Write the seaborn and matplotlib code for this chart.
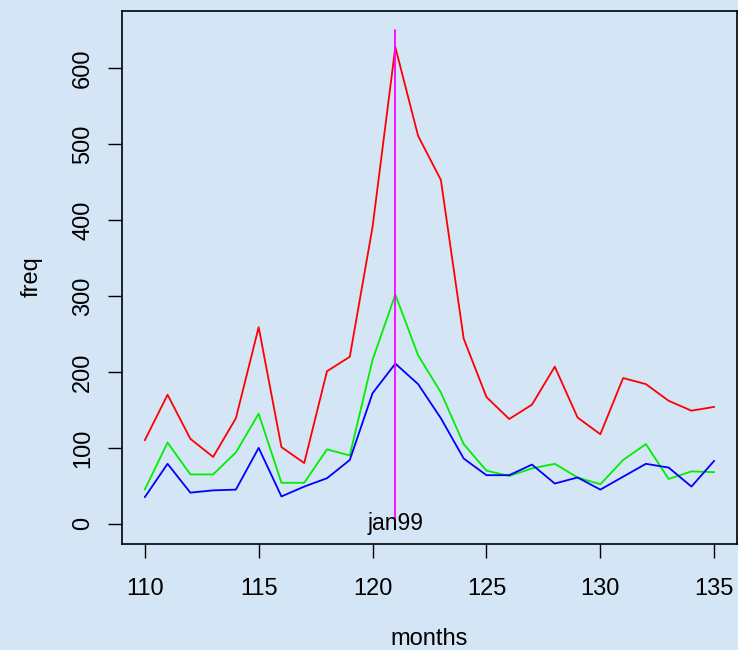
import matplotlib
matplotlib.use("Agg")
import matplotlib.pyplot as plt
import seaborn as sns
import pandas as pd

months = list(range(110, 136))
red_vals = [110, 170, 112, 88, 139, 259, 101, 80, 201, 220, 391, 628, 511, 453,
            244, 167, 138, 157, 207, 140, 118, 192, 184, 162, 149, 154]
green_vals = [45, 107, 65, 65, 94, 145, 54, 54, 98, 90, 216, 302, 222, 173,
              105, 70, 63, 73, 79, 61, 52, 84, 105, 59, 69, 68]
blue_vals = [35, 79, 41, 44, 45, 100, 36, 49, 60, 84, 172, 211, 184, 139,
             86, 64, 64, 78, 53, 61, 45, 62, 79, 74, 49, 83]
series_names = ["red", "green", "blue"]
series_colors = {"red": "#ff0000", "green": "#00ee00", "blue": "#0000ff"}
marker_month = 121
marker_top = 650
marker_label = "jan99"
x_ticks = [110, 115, 120, 125, 130, 135]
y_ticks = [0, 100, 200, 300, 400, 500, 600]

rows = []
for name, vals in zip(series_names, [red_vals, green_vals, blue_vals]):
    for m, v in zip(months, vals):
        rows.append({"months": m, "freq": v, "series": name})
df = pd.DataFrame(rows)

bg = "#d4e5f5"
sns.set_theme(style="white")
plt.rcParams["font.family"] = ["Liberation Sans", "DejaVu Sans"]

fig = plt.figure(figsize=(7.38, 6.5), dpi=100, facecolor=bg)
ax = fig.add_axes([122 / 738, 1 - 543.5 / 650, (737 - 122) / 738, (543.5 - 10.7) / 650])
ax.set_facecolor(bg)

sns.lineplot(data=df, x="months", y="freq", hue="series", hue_order=series_names,
             palette=series_colors, legend=False, ax=ax, linewidth=1.3)
ax.plot([marker_month, marker_month], [0, marker_top], color="#ff00ff", linewidth=1.3)
ax.text(marker_month, 0, marker_label, ha="center", va="center", fontsize=16.5, color="black")

ax.set_xlim(109, 136)
ax.set_ylim(-26, 676)
ax.set_xticks(x_ticks)
ax.set_yticks(y_ticks)
ax.set_xticklabels([str(t) for t in x_ticks])
ax.set_yticklabels([str(t) for t in y_ticks], rotation=90, va="center")
ax.tick_params(axis="both", direction="out", length=10, width=1, color="black",
               labelsize=17, labelcolor="black", bottom=True, left=True)
ax.tick_params(axis="x", pad=15)
ax.tick_params(axis="y", pad=10)
for s in ax.spines.values():
    s.set_color("black")
    s.set_linewidth(1.2)
    s.set_visible(True)

ax.set_xlabel("months", fontsize=17, color="black", labelpad=20)
ax.set_ylabel("freq", fontsize=17, color="black", labelpad=21)

fig.savefig("out.png", dpi=100, facecolor=bg)
